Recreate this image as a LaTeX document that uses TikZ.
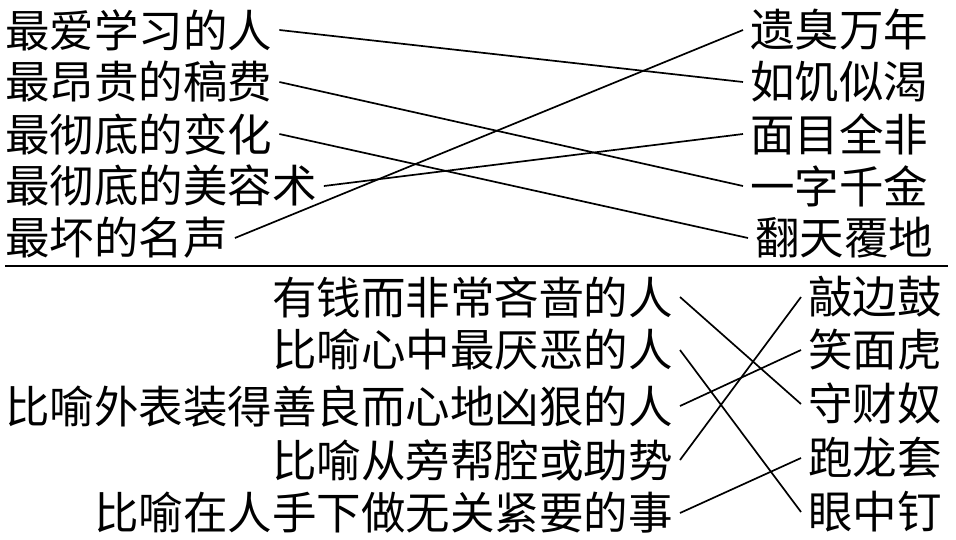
\documentclass[tikz,border=0pt]{standalone}
\usepackage{fontspec}
\setmainfont{Noto Sans CJK SC}
\begin{document}
\begin{tikzpicture}[x=1pt,y=-1pt,
  txt/.style={inner xsep=7pt,inner ysep=0pt,font=\fontsize{44.5}{44.5}\selectfont},
  lt/.style={txt,anchor=west},
  rt/.style={txt,anchor=east},
  conn/.style={line width=1.7pt}]
\useasboundingbox (0,0) rectangle (956,539);
% top
\node[lt] (a1) at (-2,30) {最爱学习的人};
\node[lt] (a2) at (-2,82) {最昂贵的稿费};
\node[lt] (a3) at (-2,134) {最彻底的变化};
\node[lt] (a4) at (-2,186) {最彻底的美容术};
\node[lt] (a5) at (-2,238) {最坏的名声};
\node[lt] (b1) at (743,30) {遗臭万年};
\node[lt] (b2) at (743,82) {如饥似渴};
\node[lt] (b3) at (743,134) {面目全非};
\node[lt] (b4) at (743,186) {一字千金};
\node[lt] (b5) at (748,238) {翻天覆地};
\draw[conn] (a1.east) -- (b2.west);
\draw[conn] (a2.east) -- (b4.west);
\draw[conn] (a3.east) -- (b5.west);
\draw[conn] (a4.east) -- (b3.west);
\draw[conn] (a5.east) -- (b1.west);
\coordinate (s1) at (5,266);
\coordinate (s2) at (948,266);
\draw[line width=2pt] (s1) -- (s2);
% bottom
\node[rt] (c1) at (680,297) {有钱而非常吝啬的人};
\node[rt] (c2) at (680,350) {比喻心中最厌恶的人};
\node[rt] (c3) at (680,406) {比喻外表装得善良而心地凶狠的人};
\node[rt] (c4) at (680,460) {比喻从旁帮腔或助势};
\node[rt] (c5) at (680,513) {比喻在人手下做无关紧要的事};
\node[lt] (d1) at (801,297) {敲边鼓};
\node[lt] (d2) at (801,350) {笑面虎};
\node[lt] (d3) at (801,404) {守财奴};
\node[lt] (d4) at (801,458) {跑龙套};
\node[lt] (d5) at (801,512) {眼中钉};
\draw[conn] (c1.east) -- (d3.west);
\draw[conn] (c2.east) -- (d5.west);
\draw[conn] (c3.east) -- (d2.west);
\draw[conn] (c4.east) -- (d1.west);
\draw[conn] (c5.east) -- (d4.west);
\end{tikzpicture}
\end{document}
